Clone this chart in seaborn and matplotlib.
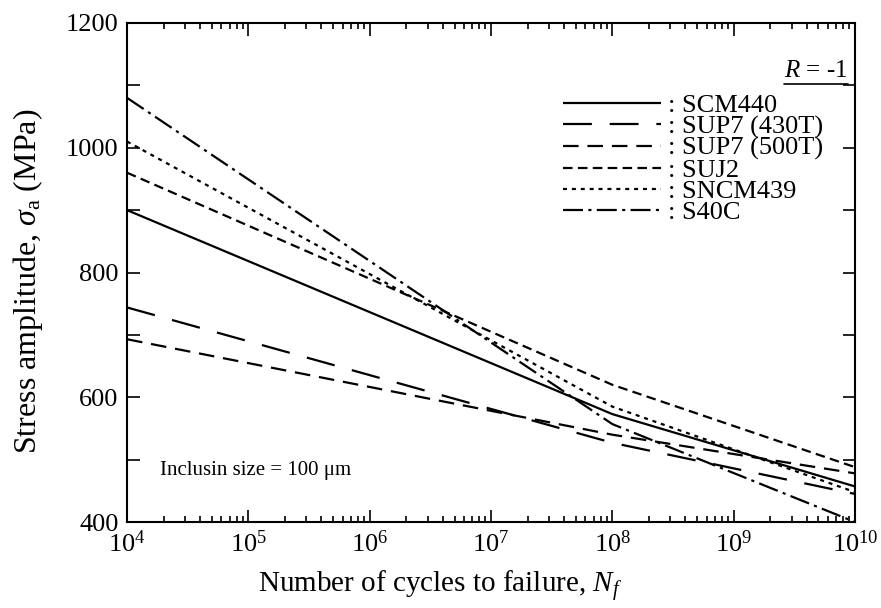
import numpy as np
import pandas as pd
import matplotlib
matplotlib.use('Agg')
import matplotlib.pyplot as plt
import seaborn as sns
from matplotlib.ticker import LogLocator, MultipleLocator, NullFormatter
from matplotlib.lines import Line2D

# S-N curves, stress amplitude (MPa) read at N = 1e4, 1e8, 1e10
cycles = [1e4, 1e8, 1e10]
steels = ['SCM440', 'SUP7 (430T)', 'SUP7 (500T)', 'SUJ2', 'SNCM439', 'S40C']
scm440 = [900, 573, 457]
sup7_430 = [744, 527, 445]
sup7_500 = [693, 540, 478]
suj2 = [960, 620, 488]
sncm439 = [1010, 585, 448]
s40c = [1080, 557, 400]

# dash patterns (in linewidth units)
dash_styles = [(0, ()), (0, (13, 8)), (0, (7, 4)), (0, (4.3, 2.4)),
               (0, (1.8, 2.2)), (0, (9, 2.4, 1.4, 2.4))]

sns.set_style('ticks')
plt.rcParams['font.family'] = ['Liberation Serif', 'DejaVu Serif']
plt.rcParams['mathtext.fontset'] = 'custom'
plt.rcParams['mathtext.rm'] = 'Liberation Serif'
plt.rcParams['mathtext.it'] = 'Liberation Serif:italic'
plt.rcParams['mathtext.bf'] = 'Liberation Serif:bold'
plt.rcParams['text.color'] = 'black'
plt.rcParams['axes.labelcolor'] = 'black'

fig = plt.figure(figsize=(8.81, 6.08), dpi=100)
ax = fig.add_axes([0.1442, 0.1414, 0.8263, 0.8208])

all_vals = [scm440, sup7_430, sup7_500, suj2, sncm439, s40c]
for name, vals, ls in zip(steels, all_vals, dash_styles):
    df = pd.DataFrame({'N': cycles, 'sigma': vals})
    sns.lineplot(data=df, x='N', y='sigma', ax=ax, color='black', lw=1.6,
                 linestyle=ls, label=': ' + name)

ax.set_xscale('log')
ax.set_xlim(1e4, 1e10)
ax.set_ylim(400, 1200)
ax.xaxis.set_major_locator(LogLocator(base=10, numticks=20))
ax.xaxis.set_minor_locator(LogLocator(base=10, subs=np.arange(2, 10), numticks=20))
ax.xaxis.set_minor_formatter(NullFormatter())
ax.yaxis.set_major_locator(MultipleLocator(200))
ax.yaxis.set_minor_locator(MultipleLocator(100))

ax.tick_params(which='both', direction='in', top=True, right=True,
               width=1.2, labelsize=19, colors='black')
ax.tick_params(which='major', length=9, pad=6)
ax.tick_params(axis='x', which='minor', length=4.5)
ax.tick_params(axis='y', which='minor', length=9)
for sp in ax.spines.values():
    sp.set_linewidth(1.5)
    sp.set_color('black')

ax.set_xlabel(r'Number of cycles to failure, $\it{N}_{\it{f}}$', fontsize=21)
ax.set_ylabel(r'Stress amplitude, $\it{\sigma}_{\rm{a}}$ (MPa)', fontsize=23)
ax.xaxis.set_label_coords(0.43, -0.094)
ax.yaxis.set_label_coords(-0.113, 0.483)

leg = ax.legend(loc='upper left', bbox_to_anchor=(0.599, 0.859), frameon=False,
                fontsize=19, handlelength=3.7, handletextpad=0.27,
                labelspacing=-0.08, borderpad=0, borderaxespad=0)

ax.text(0.045, 0.104, 'Inclusin size = 100 \u03bcm', transform=ax.transAxes,
        fontsize=15, va='center', ha='left')
rt = ax.text(0.99, 0.904, r'$\it{R}$ = -1', transform=ax.transAxes,
             fontsize=18, va='center', ha='right')

# underline for R = -1
fig.canvas.draw()
bb = rt.get_window_extent().transformed(fig.transFigure.inverted())
fig.add_artist(Line2D([bb.x0, bb.x1], [bb.y0 - 0.004, bb.y0 - 0.004],
                      transform=fig.transFigure, color='black', lw=1.2))

fig.savefig('out.png', dpi=100)
